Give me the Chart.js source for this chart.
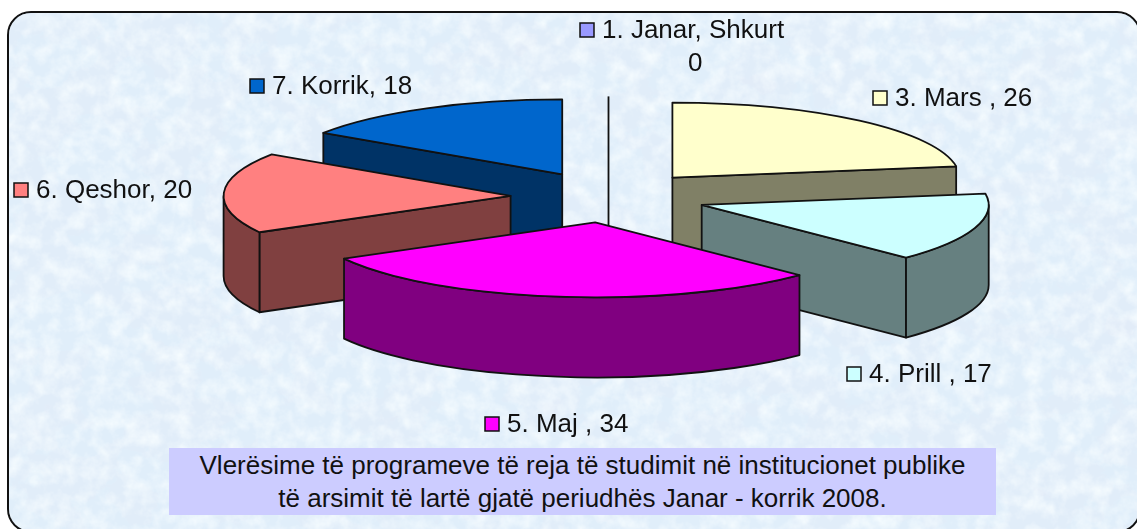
<!DOCTYPE html>
<html lang="sq">
<head>
<meta charset="utf-8">
<title>Vlerësime të programeve të reja</title>
<script src="https://cdn.jsdelivr.net/npm/chart.js@4"></script>
<style>
  html, body { margin: 0; padding: 0; width: 1137px; height: 529px; overflow: hidden; background: #fff; }
  #frame { position: absolute; left: 7px; top: 11px; width: 1134px; height: 522px; box-sizing: border-box;
           border: 2px solid #111; border-radius: 24px; overflow: hidden; background: #e0eefa; }
  #frame svg { position: absolute; left: 0; top: 0; }
  #pie { position: absolute; left: 0; top: 0; }
  #note { position: absolute; left: 169px; top: 448px; width: 827px; height: 67px; background: #ccccff;
          font: 26px/33px "Liberation Sans", Arial, sans-serif; color: #111; text-align: center; padding-top: 1px; box-sizing: border-box; }
</style>
</head>
<body>
<div id="frame">
  <svg width="1134" height="522">
    <filter id="mottle" x="0" y="0" width="100%" height="100%">
      <feTurbulence type="fractalNoise" baseFrequency="0.014 0.018" numOctaves="5" seed="7"/>
      <feColorMatrix values="0 0 0 0 0.76  0 0 0 0 0.84  0 0 0 0 0.94  1.9 0 0 0 -0.68"/>
    </filter>
    <filter id="fleck" x="0" y="0" width="100%" height="100%">
      <feTurbulence type="fractalNoise" baseFrequency="0.06" numOctaves="4" seed="21"/>
      <feColorMatrix values="0 0 0 0 0.93  0 0 0 0 0.98  0 0 0 0 1  0 1.7 0 0 -0.62"/>
    </filter>
    <rect width="1134" height="522" filter="url(#mottle)"/>
    <rect width="1134" height="522" filter="url(#fleck)"/>
  </svg>
</div>
<canvas id="pie" width="1137" height="529"></canvas>
<div id="note">Vlerësime të programeve të reja të studimit në institucionet publike<br>të arsimit të lartë gjatë periudhës Janar - korrik 2008.</div>
<script>
// ── Data ─────────────────────────────────────────────────
const months   = ['1. Janar, Shkurt', '3. Mars ', '4. Prill ', '5. Maj ', '6. Qeshor', '7. Korrik'];
const reviews  = [0, 26, 17, 34, 20, 18];
const topFill  = ['#9999ff', '#ffffcc', '#ccffff', '#ff00ff', '#ff8080', '#0066cc'];
const sideFill = ['#4c4c80', '#808066', '#668080', '#800080', '#804040', '#003366'];

// where each label's marker sits
const labelAt  = [[580, 23], [873, 91], [847, 367], [485, 417], [14, 183], [250, 79]];

// ── 3D look ──────────────────────────────────────────────
const RADIUS  = 287;
const FLAT    = 75 / 287;   // squash of the circle into the tilted ellipse
const EXPLODE = 98;
const DEPTH   = 80;

const pie3d = {
  id: 'pie3d',

  // the arcs are painted here, back to front, with their walls
  beforeDatasetDraw(chart, args) {
    const ctx  = chart.ctx;
    const arcs = args.meta.data.slice();
    const mid  = (a) => (a.startAngle + a.endAngle) / 2;
    arcs.sort((a, b) => Math.sin(mid(a)) - Math.sin(mid(b)));
    arcs.forEach((arc) => drawSlice(ctx, arc, mid(arc), sideFill[args.meta.data.indexOf(arc)]));
    return false;
  },

  afterDraw(chart) {
    const ctx = chart.ctx;
    ctx.save();
    ctx.font = '26px "Liberation Sans", Arial, sans-serif';
    ctx.textBaseline = 'alphabetic';
    months.forEach((m, i) => {
      const [x, y] = labelAt[i];
      ctx.fillStyle = topFill[i];
      ctx.strokeStyle = '#111';
      ctx.lineWidth = 1.5;
      ctx.fillRect(x, y, 14, 14);
      ctx.strokeRect(x, y, 14, 14);
      ctx.fillStyle = '#111';
      if (reviews[i] === 0) {
        ctx.fillText(m, x + 22, y + 15);
        ctx.fillText(String(reviews[i]), x + 108, y + 48);
      } else {
        ctx.fillText(m + ', ' + reviews[i], x + 22, y + 15);
      }
    });
    ctx.restore();
  }
};

function drawSlice(ctx, arc, mid, wall) {
  const ox = arc.x + Math.cos(mid) * EXPLODE;
  const oy = arc.y + Math.sin(mid) * EXPLODE * FLAT;
  const r  = arc.outerRadius;
  const ry = r * FLAT;
  const rim = (t) => [ox + Math.cos(t) * r, oy + Math.sin(t) * ry];

  ctx.save();
  ctx.lineWidth = 1.8;
  ctx.strokeStyle = '#111';
  ctx.lineJoin = 'round';
  ctx.fillStyle = wall;

  // a zero slice has no area, it only shows as one upright line
  if (arc.circumference === 0) {
    const [ex, ey] = rim(arc.startAngle);
    ctx.beginPath();
    ctx.moveTo(ex, ey);
    ctx.lineTo(ox, oy + DEPTH);
    ctx.stroke();
    ctx.restore();
    return;
  }

  // flat cut faces, only the ones turned towards the viewer
  [[arc.startAngle, -1], [arc.endAngle, 1]].forEach(([t, side]) => {
    if (Math.cos(t) * side <= 0) return;
    const [ex, ey] = rim(t);
    ctx.beginPath();
    ctx.moveTo(ox, oy);
    ctx.lineTo(ex, ey);
    ctx.lineTo(ex, ey + DEPTH);
    ctx.lineTo(ox, oy + DEPTH);
    ctx.closePath();
    ctx.fill();
    ctx.stroke();
  });

  // curved outer wall, only the front half of the ellipse
  const a = Math.max(arc.startAngle, 0);
  const b = Math.min(arc.endAngle, Math.PI);
  if (b > a) {
    ctx.beginPath();
    ctx.ellipse(ox, oy, r, ry, 0, a, b);
    ctx.ellipse(ox, oy + DEPTH, r, ry, 0, b, a, true);
    ctx.closePath();
    ctx.fill();
    ctx.stroke();
  }

  // top of the slice, the library's own arc in a squashed space
  ctx.save();
  ctx.translate(ox, oy);
  ctx.scale(1, FLAT);
  ctx.translate(-arc.x, -arc.y);
  arc.draw(ctx);
  ctx.restore();

  ctx.beginPath();
  ctx.moveTo(ox, oy);
  ctx.ellipse(ox, oy, r, ry, 0, arc.startAngle, arc.endAngle);
  ctx.closePath();
  ctx.stroke();
  ctx.restore();
}

// ── Chart ────────────────────────────────────────────────
new Chart(document.getElementById('pie'), {
  type: 'pie',
  data: {
    labels: months,
    datasets: [{ data: reviews, backgroundColor: topFill, borderWidth: 0 }]
  },
  options: {
    responsive: false,
    animation: false,
    radius: RADIUS,
    layout: { padding: { left: 80, right: 0, top: 0, bottom: 135 } },
    plugins: { legend: { display: false }, tooltip: { enabled: false } }
  },
  plugins: [pie3d]
});
</script>
</body>
</html>
